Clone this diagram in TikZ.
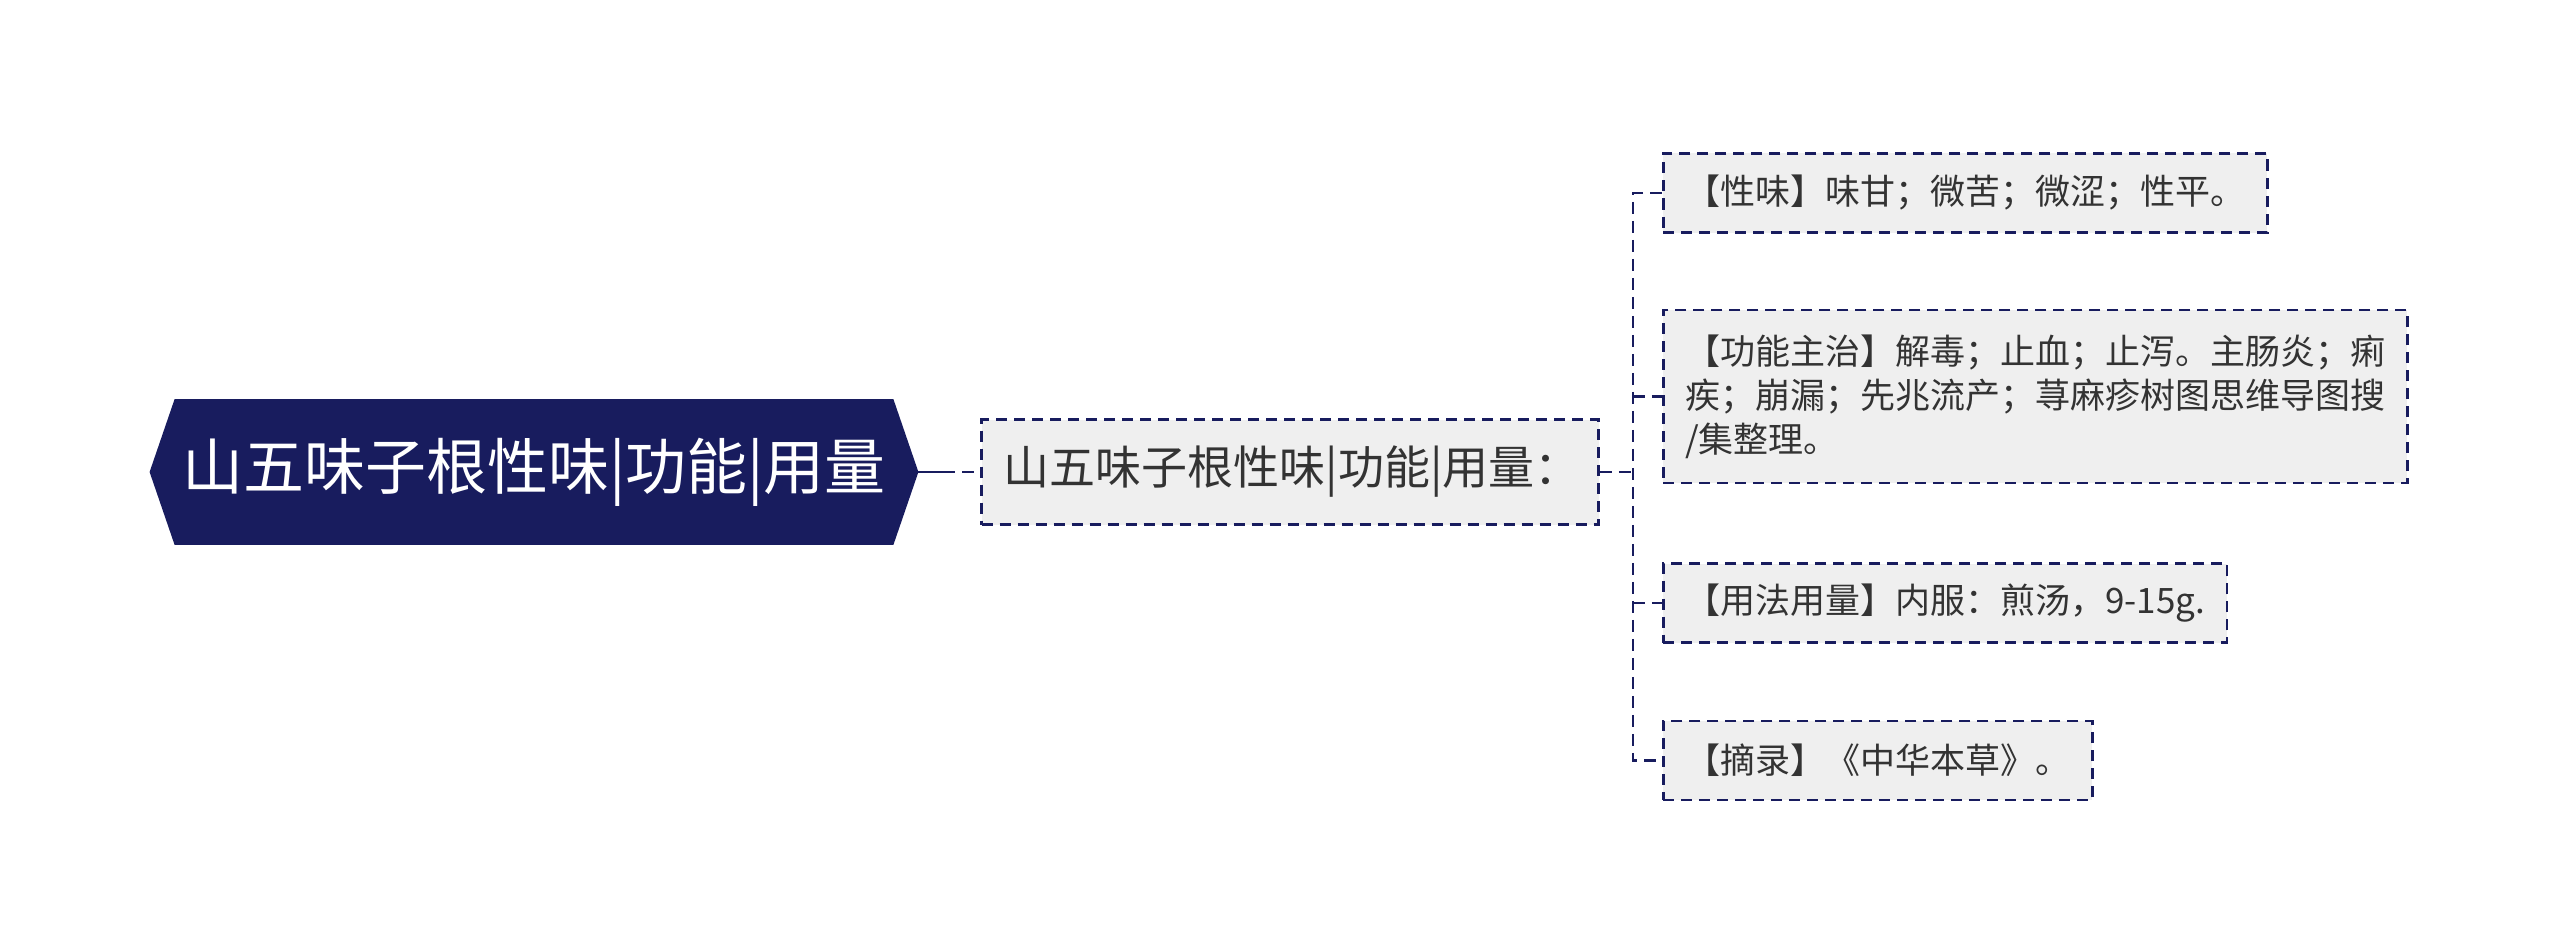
\documentclass[tikz,border=0pt]{standalone}
\usepackage{fontspec}
\setmainfont{Noto Sans CJK SC}
\usepackage{xcolor}
\usepackage{tikz}
\usetikzlibrary{positioning,calc,backgrounds}
\definecolor{hexnavy}{RGB}{24,28,94}
\definecolor{boxfill}{RGB}{239,239,239}
\definecolor{inkgray}{RGB}{51,51,51}
\tikzset{
  rootbox/.style  = {align=center, text=white, inner sep=0pt, minimum width=359pt, minimum height=72.5pt, font=\fontsize{30.5}{36}\selectfont},
  topicbox/.style = {draw=hexnavy, dash pattern=on 5.5pt off 3.5pt, line width=1.25pt, fill=boxfill, text=inkgray, align=left, inner xsep=11pt, inner ysep=0pt, text width=286.5pt, minimum height=52.5pt, font=\fontsize{23}{27}\selectfont},
  leafbox/.style  = {draw=hexnavy, dash pattern=on 5.5pt off 3.5pt, line width=1.25pt, fill=boxfill, text=inkgray, align=left, inner xsep=11pt, inner ysep=0pt, minimum height=39.5pt, font=\fontsize{17.5}{22}\selectfont},
  link/.style     = {draw=hexnavy, line width=1.25pt, dash pattern=on 6pt off 3.5pt},
}

\begin{document}
\begin{tikzpicture}[x=0.5pt, y=-0.5pt]
  \useasboundingbox (0,0) rectangle (2560,947);
  \node[rootbox] (root) at (534,472) {山五味子根性味|功能|用量};
  \begin{scope}[on background layer]
    \fill[hexnavy] (root.north west) -- (root.north east) -- ([xshift=12.5pt]root.east) -- (root.south east)
      -- (root.south west) -- ([xshift=-12.5pt]root.west) -- cycle;
  \end{scope}
  \node[topicbox, right=43.5pt of root] (topic) {山五味子根性味|功能|用量：};
  \node[leafbox, anchor=west] (taste) at (1662,193) {【性味】味甘；微苦；微涩；性平。};
  \node[leafbox, below=37.5pt of taste.south west, anchor=north west, minimum height=86.5pt] (func) {【功能主治】解毒；止血；止泻。主肠炎；痢\\疾；崩漏；先兆流产；荨麻疹树图思维导图搜\\/集整理。};
  \node[leafbox, below=39pt of func.south west, anchor=north west] (dose) {【用法用量】内服：煎汤，9-15g.};
  \node[leafbox, below=38pt of dose.south west, anchor=north west] (src) {【摘录】《中华本草》。};
  \coordinate (trunk) at ($(topic.east)+(16.5pt,0)$);
  \draw[link, dash pattern=on 31pt off 3.5pt on 6pt off 3.5pt] (root.east) -- (topic.west);
  \draw[link] (topic.east) -- (trunk);
  \draw[link] (taste.west) -| (trunk |- src.west) -- (src.west);
  \draw[link] (trunk |- func.west) -- (func.west);
  \draw[link] (trunk |- dose.west) -- (dose.west);
\end{tikzpicture}
\end{document}
